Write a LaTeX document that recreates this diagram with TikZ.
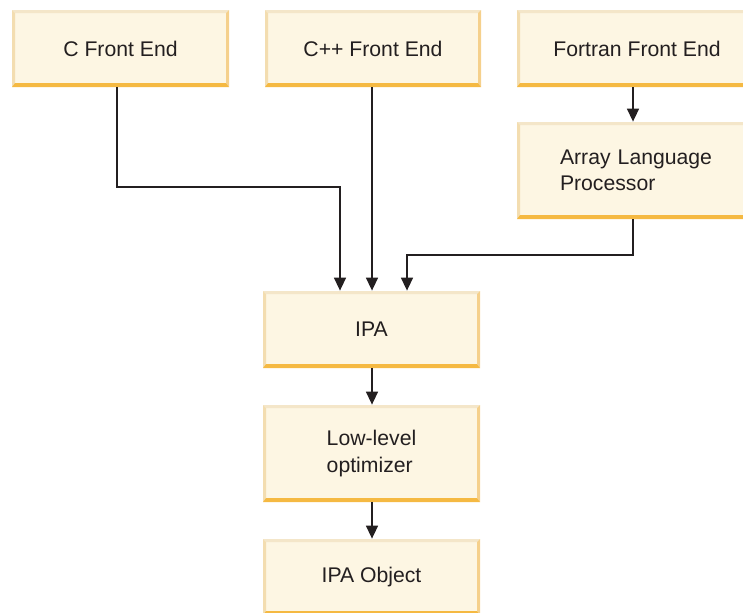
\documentclass[tikz,border=0pt]{standalone}
\usepackage{fontspec}
\setmainfont{Liberation Sans}
\usetikzlibrary{arrows.meta,calc}
\definecolor{bfill}{HTML}{FDF6E3}
\definecolor{btop}{HTML}{F4E6C9}
\definecolor{bleft}{HTML}{F3DDB0}
\definecolor{bright}{HTML}{F5D08C}
\definecolor{bbot}{HTML}{F5B942}
\definecolor{txt}{HTML}{231F20}
\tikzset{
  bevelbox/.style={draw=none, fill=bfill, inner sep=0pt, text=txt,
    font=\fontsize{10.6}{13.3}\selectfont, align=center,
    minimum height=#1,
    path picture={
      \fill[btop] (path picture bounding box.north west) -- (path picture bounding box.north east)
        -- ([xshift=-1.5pt,yshift=-1.5pt]path picture bounding box.north east)
        -- ([xshift=1.5pt,yshift=-1.5pt]path picture bounding box.north west) -- cycle;
      \fill[bleft] (path picture bounding box.north west) -- (path picture bounding box.south west)
        -- ([xshift=1.5pt,yshift=2pt]path picture bounding box.south west)
        -- ([xshift=1.5pt,yshift=-1.5pt]path picture bounding box.north west) -- cycle;
      \fill[bright] (path picture bounding box.north east) -- (path picture bounding box.south east)
        -- ([xshift=-1.5pt,yshift=2pt]path picture bounding box.south east)
        -- ([xshift=-1.5pt,yshift=-1.5pt]path picture bounding box.north east) -- cycle;
      \fill[bbot] (path picture bounding box.south west) -- (path picture bounding box.south east)
        -- ([xshift=-1.5pt,yshift=2pt]path picture bounding box.south east)
        -- ([xshift=1.5pt,yshift=2pt]path picture bounding box.south west) -- cycle;
    }},
  arr/.style={draw=txt, line width=0.75pt, -{Triangle[length=6.5pt,width=6pt]}}
}
\begin{document}
\begin{tikzpicture}[x=0.5pt,y=-0.5pt]
\useasboundingbox (0,0) rectangle (743,612);
\clip (0,0) rectangle (743,612);
\node[bevelbox=38.5pt, minimum width=108.5pt] (cfe) at (120.5,48.5) {C Front End};
\node[bevelbox=38.5pt, minimum width=108pt] (cpp) at (373,48.5) {C++ Front End};
\node[bevelbox=38.5pt, minimum width=120pt] (ffe) at (637,48.5) {Fortran Front End};
\node[bevelbox=48.5pt, minimum width=120pt, text width=77pt, align=left] (alp) at (637,170.5) {Array Language\\Processor};
\node[bevelbox=38.5pt, minimum width=108.5pt] (ipa) at (371.5,329.5) {IPA};
\node[bevelbox=48.5pt, minimum width=108.5pt] (llo) at (371.5,453.5) {\begin{tabular}{@{}l@{}}Low-level\\optimizer\end{tabular}};
\node[bevelbox=38pt, minimum width=108.5pt] (ipo) at (371.5,577) {IPA Object};
\coordinate (ca) at (117,187);
\coordinate (cb) at (340,187);
\coordinate (cc) at (372,0);
\coordinate (fa) at (633,255);
\coordinate (fb) at (407,255);
\draw[arr] (cfe.south -| ca) -- (ca) -- (cb) -- (ipa.north -| cb);
\draw[arr] (cpp.south -| cc) -- (ipa.north -| cc);
\draw[arr] (ffe.south -| fa) -- (alp.north -| fa);
\draw[arr] (alp.south -| fa) -- (fa) -- (fb) -- (ipa.north -| fb);
\draw[arr] (ipa.south -| cc) -- (llo.north -| cc);
\draw[arr] (llo.south -| cc) -- (ipo.north -| cc);
\end{tikzpicture}
\end{document}
